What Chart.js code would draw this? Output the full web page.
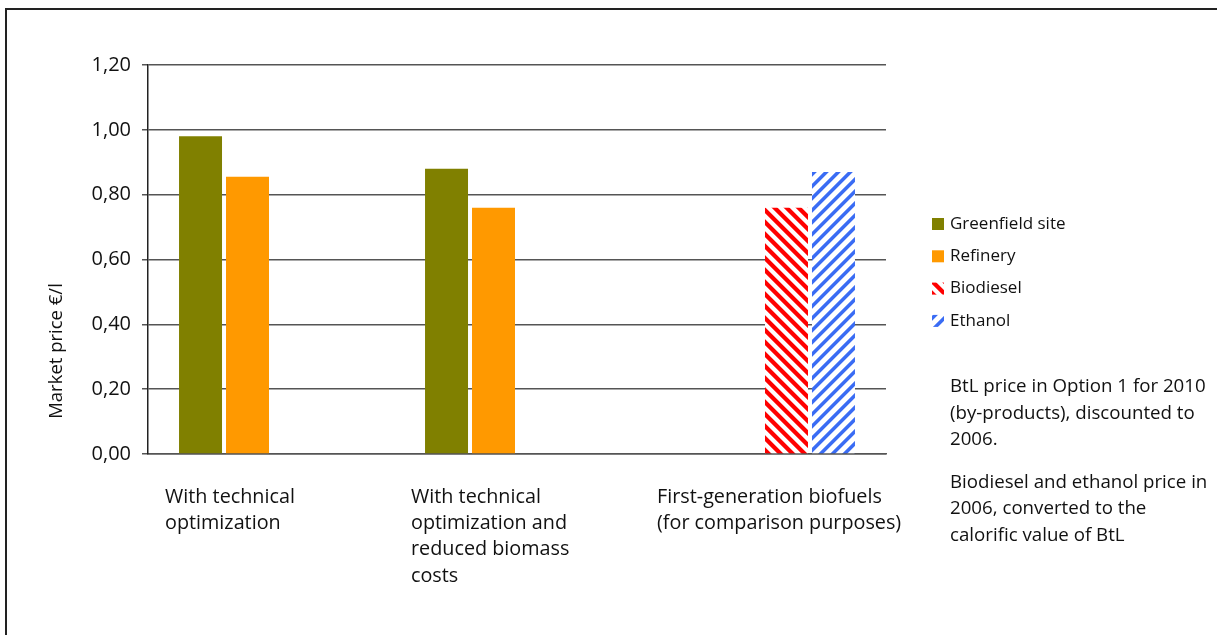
<!DOCTYPE html>
<html>
<head>
<meta charset="utf-8">
<script src="https://cdn.jsdelivr.net/npm/chart.js@4.4.0/dist/chart.umd.min.js"></script>
<style>
  body { margin: 0; background: #fff; overflow: hidden; }
  #marco { position: absolute; left: 5px; top: 8px; width: 1400px; height: 800px; border: 2px solid #222; }
  #grafica { position: absolute; left: 0; top: 0; }
</style>
</head>
<body>
<div id="marco"></div>
<canvas id="grafica" width="1217" height="635"></canvas>
<script>
const categorias = [
    ['With technical', 'optimization'],
    ['With technical', 'optimization and', 'reduced biomass', 'costs'],
    ['First-generation biofuels', '(for comparison purposes)']
];
const greenfield = [0.98, 0.88, null];
const refinery = [0.855, 0.76, null];
const biodiesel = [null, null, 0.76];
const ethanol = [null, null, 0.87];
const notas = [
    ['BtL price in Option 1 for 2010', '(by-products), discounted to', '2006.'],
    ['Biodiesel and ethanol price in', '2006, converted to the', 'calorific value of BtL']
];

const fuente = '"Open Sans", "Noto Sans", sans-serif';
const colorTexto = '#111';

// rayas diagonales pixel a pixel, con suavizado
function rayado(rgb, sentido, ancho) {
    const s = 12;
    const c = document.createElement('canvas');
    c.width = s; c.height = s;
    const ctx = c.getContext('2d');
    const img = ctx.createImageData(s, s);
    const n = 4;
    for (let y = 0; y < s; y++) {
        for (let x = 0; x < s; x++) {
            let cubierto = 0;
            for (let sy = 0; sy < n; sy++) {
                for (let sx = 0; sx < n; sx++) {
                    const px = x + (sx + 0.5) / n;
                    const py = y + (sy + 0.5) / n;
                    const t = sentido === '\\' ? px - py : px + py;
                    const u = ((t % s) + s) % s;
                    if (u < ancho) cubierto++;
                }
            }
            const a = cubierto / (n * n);
            const i = (y * s + x) * 4;
            img.data[i] = Math.round(255 + (rgb[0] - 255) * a);
            img.data[i + 1] = Math.round(255 + (rgb[1] - 255) * a);
            img.data[i + 2] = Math.round(255 + (rgb[2] - 255) * a);
            img.data[i + 3] = 255;
        }
    }
    ctx.putImageData(img, 0, 0);
    return ctx.createPattern(c, 'repeat');
}

// leyenda y notas a la derecha
const extras = {
    id: 'extras',
    afterDraw(chart) {
        const ctx = chart.ctx;
        ctx.save();
        ctx.textBaseline = 'middle';
        ctx.textAlign = 'left';
        ctx.font = '17px ' + fuente;
        chart.data.datasets.forEach((ds, i) => {
            const cy = 224 + i * 32.3;
            ctx.fillStyle = ds.backgroundColor;
            ctx.fillRect(932, cy - 6, 12, 12);
            ctx.fillStyle = colorTexto;
            ctx.fillText(ds.label, 950, cy);
        });

        ctx.font = '18.7px ' + fuente;
        let y = 387;
        notas.forEach(parrafo => {
            parrafo.forEach(linea => {
                ctx.fillText(linea, 950, y);
                y += 26.5;
            });
            y += 16;
        });

        // titulo del eje y
        ctx.translate(57, 351);
        ctx.rotate(-Math.PI / 2);
        ctx.textAlign = 'center';
        ctx.font = '18.5px ' + fuente;
        ctx.fillText('Market price €/l', 0, 0);
        ctx.restore();
    }
};

new Chart(document.getElementById('grafica'), {
    type: 'bar',
    data: {
        labels: categorias,
        datasets: [
            { label: 'Greenfield site', data: greenfield, backgroundColor: '#808000' },
            { label: 'Refinery', data: refinery, backgroundColor: '#ff9900' },
            { label: 'Biodiesel', data: biodiesel, backgroundColor: rayado([255, 0, 0], '\\', 6) },
            { label: 'Ethanol', data: ethanol, backgroundColor: rayado([58, 108, 244], '/', 5) }
        ]
    },
    options: {
        responsive: false,
        animation: false,
        devicePixelRatio: 1,
        categoryPercentage: 0.764,
        barPercentage: 0.915,
        layout: { padding: { left: 8, top: 65, right: 331, bottom: 20 } },
        plugins: {
            legend: { display: false },
            tooltip: { enabled: false }
        },
        scales: {
            x: {
                grid: { display: false, drawTicks: false },
                border: { display: true, color: '#555', width: 1.5 },
                afterFit: scale => { scale.height = 161; },
                ticks: {
                    autoSkip: false,
                    maxRotation: 0,
                    minRotation: 0,
                    align: 'start',
                    labelOffset: -106,
                    padding: 30,
                    color: colorTexto,
                    font: { family: fuente, size: 19.8, lineHeight: 1.33 }
                }
            },
            y: {
                min: 0,
                max: 1.2,
                afterFit: scale => { scale.width = 140; },
                grid: { color: '#555', lineWidth: 1.5, tickLength: 6 },
                border: { display: true, color: '#222', width: 1.5 },
                ticks: {
                    stepSize: 0.2,
                    padding: 11,
                    color: colorTexto,
                    font: { family: fuente, size: 20 },
                    callback: v => Number(v).toFixed(2).replace('.', ',')
                }
            }
        }
    },
    plugins: [extras]
});
</script>
</body>
</html>
